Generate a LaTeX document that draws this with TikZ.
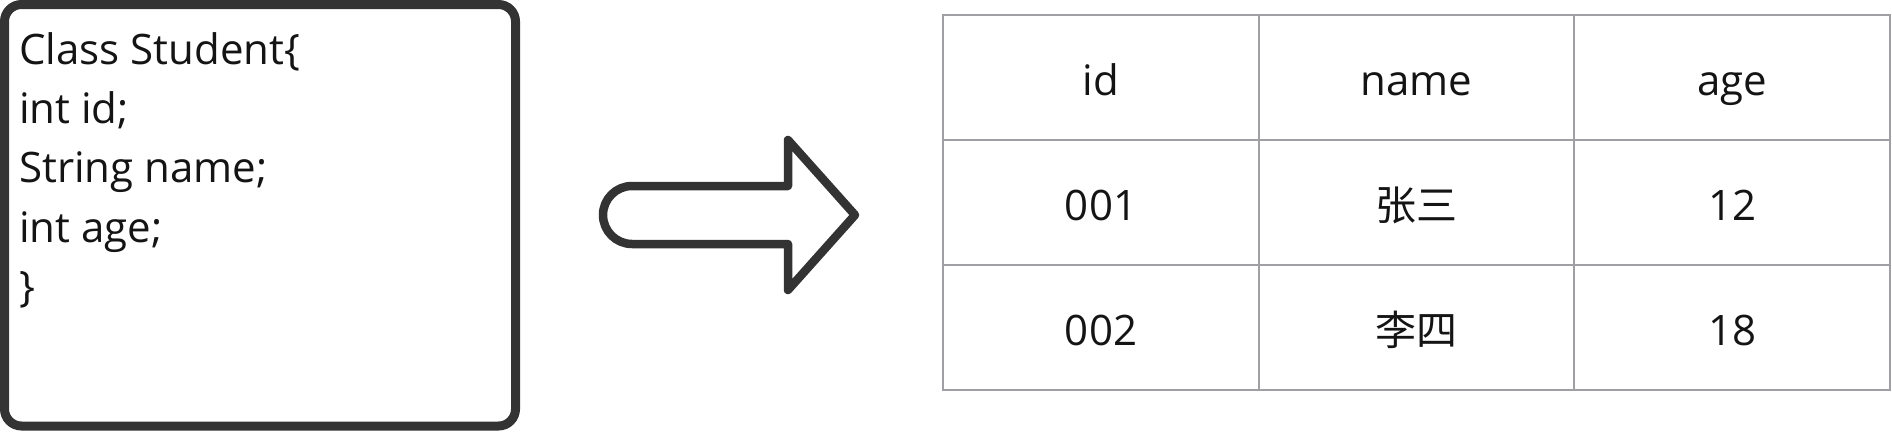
\documentclass[tikz,border=0pt]{standalone}
\usepackage{fontspec}
\setmainfont{Open Sans}
\newfontfamily\cjk{Noto Sans CJK SC}
\definecolor{gridgray}{RGB}{160,160,164}
\definecolor{darkline}{RGB}{51,51,51}
\definecolor{textcol}{RGB}{20,20,20}
\begin{document}
\begin{tikzpicture}[x=1pt,y=-1pt,
  dark/.style={draw=darkline, line width=9pt},
  grid/.style={draw=gridgray, line width=2.6pt},
  codeline/.style={anchor=base west, inner sep=0pt, font=\fontsize{42}{50}\selectfont, text=textcol},
  cell/.style={anchor=base, inner sep=0pt, font=\fontsize{42}{50}\selectfont, text=textcol},
  cjkcell/.style={anchor=base, inner sep=0pt, font=\fontsize{41}{50}\selectfont\cjk, text=textcol}]
\useasboundingbox (0,0) rectangle (1892,431);
% left code box
\draw[dark, rounded corners=17pt] (4.5,4.5) rectangle (515.5,426);
\node[codeline] (l1) at (19,64) {Class Student\{};
\node[codeline] (l2) at (19,123) {int id;};
\node[codeline] (l3) at (19,182.5) {String name;};
\node[codeline] (l4) at (19,242) {int age;};
\node[codeline] (l5) at (19,301) {\}};
% arrow
\draw[dark, line width=8.5pt, line join=round, fill=white] (632,186) -- (788,186) -- (788,140) -- (855,215) -- (788,290) -- (788,244) -- (632,244) arc (90:270:29) -- cycle;
% table
\draw[grid, line cap=round] (943,15) rectangle (1890,390);
\draw[grid] (943,140) -- (1890,140) (943,265) -- (1890,265)
  (1259,15) -- (1259,390) (1574,15) -- (1574,390);
\node[cell] (h1) at (1101,95) {id};
\node[cell] (h2) at (1416.5,95) {name};
\node[cell] (h3) at (1732,95) {age};
\node[cell] (a1) at (1101,220) {001};
\node[cjkcell] (a2) at (1416.5,220) {张三};
\node[cell] (a3) at (1732,220) {12};
\node[cell] (b1) at (1101,345) {002};
\node[cjkcell] (b2) at (1416.5,345) {李四};
\node[cell] (b3) at (1732,345) {18};
\end{tikzpicture}
\end{document}
